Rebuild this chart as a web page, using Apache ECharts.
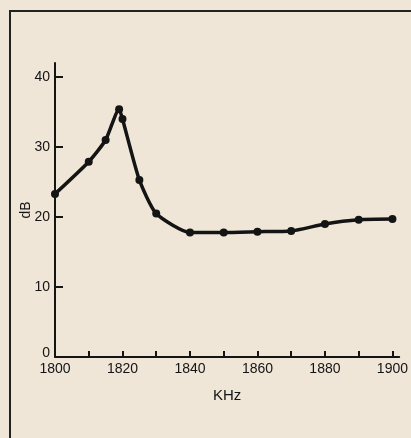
<!DOCTYPE html>
<html>
<head>
<meta charset="utf-8">
<script src="https://cdn.jsdelivr.net/npm/echarts@6/dist/echarts.min.js"></script>
<style>
    html, body { margin: 0; padding: 0; background: #efe6d8; }
    #frame { position: absolute; left: 9px; top: 10px; right: 0; bottom: 0;
             border-left: 2px solid #222; border-top: 2px solid #222; }
    #chart { position: absolute; left: 0; top: 0; width: 411px; height: 438px; }
</style>
</head>
<body>
<div id="frame"></div>
<div id="chart"></div>
<script>
    // frequency (KHz) and response (dB)
    var freq = [1800, 1810, 1815, 1819, 1820, 1825, 1830, 1840, 1850, 1860, 1870, 1880, 1890, 1900]
    var level = [23.3, 27.9, 31.0, 35.4, 34.0, 25.3, 20.5, 17.8, 17.8, 17.9, 18.0, 19.0, 19.6, 19.7]
    var xTicks = [1810, 1820, 1830, 1840, 1850, 1860, 1870, 1880, 1890, 1900]
    var xLabels = [1800, 1820, 1840, 1860, 1880, 1900]
    var yTicks = [10, 20, 30, 40]
    var yLabels = [0, 10, 20, 30, 40]

    var points = []
    freq.forEach(function (f, i) {
        points.push([f, level[i]])
    })

    var ink = '#141414'
    var chart = echarts.init(document.getElementById('chart'))
    chart.setOption({
        animation: false,
        textStyle: { fontFamily: 'Liberation Sans, Arial, sans-serif' },
        grid: { left: 55, top: 63, right: 5, bottom: 81 },
        xAxis: {
            type: 'value',
            min: 1800,
            max: 1902,
            name: 'KHz',
            nameLocation: 'middle',
            nameGap: 31,
            nameTextStyle: { color: ink, fontSize: 15 },
            splitLine: { show: false },
            axisLine: { lineStyle: { color: ink, width: 2 } },
            axisTick: { inside: true, length: 6, customValues: xTicks, lineStyle: { color: ink, width: 2 } },
            axisLabel: {
                customValues: xLabels, color: ink, fontSize: 14, margin: 5,
                formatter: function (v) { return String(v) }
            }
        },
        yAxis: {
            type: 'value',
            min: 0,
            max: 42,
            name: 'dB',
            nameLocation: 'middle',
            nameGap: 22,
            nameMoveOverlap: false,
            nameTextStyle: { color: ink, fontSize: 14 },
            splitLine: { show: false },
            axisLine: { lineStyle: { color: ink, width: 2 } },
            axisTick: { inside: true, length: 8, customValues: yTicks, lineStyle: { color: ink, width: 2 } },
            axisLabel: {
                customValues: yLabels, color: ink, fontSize: 14, margin: 5,
                formatter: function (v) { return v === 0 ? '{z|0}' : String(v) },
                rich: { z: { fontSize: 14, color: ink, padding: [0, 0, 8, 0] } }
            }
        },
        series: [{
            type: 'line',
            data: points,
            smooth: 0.2,
            symbol: 'circle',
            symbolSize: 8,
            itemStyle: { color: ink },
            lineStyle: { color: ink, width: 3.5 }
        }]
    })
</script>
</body>
</html>
